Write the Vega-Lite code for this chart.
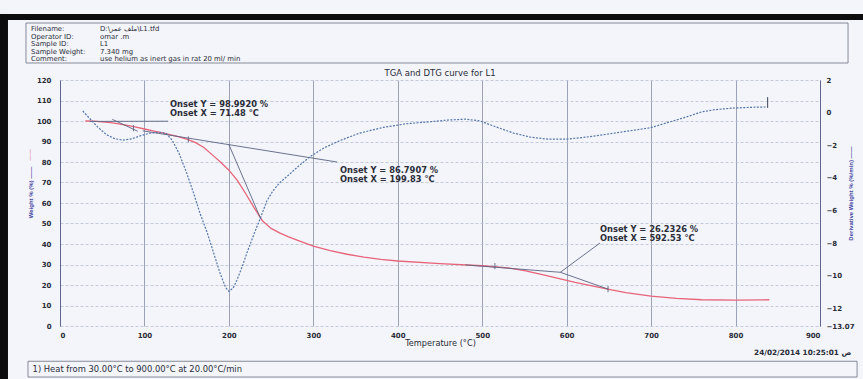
{
  "$schema": "https://vega.github.io/schema/vega-lite/v6.json",
  "width": 760,
  "height": 246,
  "autosize": {"type": "none"},
  "padding": {"left": 60, "top": 80, "right": 43, "bottom": 53},
  "background": "#f3f5fa",
  "config": {
    "view": {"stroke": null},
    "text": {"font": "DejaVu Sans"},
    "axis": {"labelFont": "DejaVu Sans", "labelColor": "#2a2c38", "labelFontSize": 7, "labelFontWeight": "bold", "labelOverlap": false, "titleFont": "DejaVu Sans", "ticks": false}
  },
  "datasets": {
    "tga": [
      {"T": 30, "W": 100}, {"T": 40, "W": 99.9}, {"T": 50, "W": 99.6}, {"T": 60, "W": 99.2},
      {"T": 70, "W": 98.6}, {"T": 80, "W": 97.9}, {"T": 90, "W": 97.0}, {"T": 100, "W": 96.1},
      {"T": 110, "W": 95.2}, {"T": 120, "W": 94.3}, {"T": 130, "W": 93.4}, {"T": 140, "W": 92.4},
      {"T": 150, "W": 91.2}, {"T": 160, "W": 89.6}, {"T": 170, "W": 87.2}, {"T": 180, "W": 83.6},
      {"T": 190, "W": 80.0}, {"T": 200, "W": 76.0}, {"T": 210, "W": 71.0}, {"T": 220, "W": 64.5},
      {"T": 230, "W": 57.6}, {"T": 240, "W": 51.2}, {"T": 250, "W": 47.6}, {"T": 260, "W": 45.4},
      {"T": 270, "W": 43.6}, {"T": 280, "W": 42.0}, {"T": 300, "W": 39.0}, {"T": 320, "W": 36.8},
      {"T": 340, "W": 35.0}, {"T": 360, "W": 33.6}, {"T": 380, "W": 32.5}, {"T": 400, "W": 31.7},
      {"T": 450, "W": 30.4}, {"T": 500, "W": 29.4}, {"T": 530, "W": 28.4}, {"T": 550, "W": 27.0},
      {"T": 570, "W": 25.2}, {"T": 590, "W": 23.2}, {"T": 610, "W": 21.3}, {"T": 630, "W": 19.6},
      {"T": 650, "W": 17.9}, {"T": 670, "W": 16.3}, {"T": 700, "W": 14.6}, {"T": 730, "W": 13.5},
      {"T": 760, "W": 12.8}, {"T": 800, "W": 12.6}, {"T": 840, "W": 12.8}
    ],
    "dtg": [
      {"T": 27, "D": 0.1}, {"T": 35, "D": -0.35}, {"T": 45, "D": -0.9}, {"T": 55, "D": -1.35},
      {"T": 65, "D": -1.6}, {"T": 75, "D": -1.68}, {"T": 85, "D": -1.6}, {"T": 95, "D": -1.42},
      {"T": 107, "D": -1.25}, {"T": 118, "D": -1.2}, {"T": 126, "D": -1.28}, {"T": 133, "D": -1.7},
      {"T": 141, "D": -2.5}, {"T": 150, "D": -3.7}, {"T": 158, "D": -4.9}, {"T": 166, "D": -6.2},
      {"T": 174, "D": -7.3}, {"T": 182, "D": -8.6}, {"T": 190, "D": -9.9}, {"T": 196, "D": -10.7},
      {"T": 200, "D": -10.95}, {"T": 205, "D": -10.75}, {"T": 210, "D": -10.2}, {"T": 216, "D": -9.4},
      {"T": 222, "D": -8.5}, {"T": 230, "D": -7.4}, {"T": 237, "D": -6.5}, {"T": 245, "D": -5.4},
      {"T": 252, "D": -4.8}, {"T": 260, "D": -4.3}, {"T": 269, "D": -3.9}, {"T": 282, "D": -3.3},
      {"T": 296, "D": -2.7}, {"T": 313, "D": -2.15}, {"T": 332, "D": -1.7}, {"T": 355, "D": -1.25},
      {"T": 383, "D": -0.9}, {"T": 410, "D": -0.68}, {"T": 438, "D": -0.56}, {"T": 460, "D": -0.45},
      {"T": 480, "D": -0.4}, {"T": 497, "D": -0.5}, {"T": 515, "D": -0.85}, {"T": 537, "D": -1.25},
      {"T": 557, "D": -1.5}, {"T": 577, "D": -1.62}, {"T": 600, "D": -1.62}, {"T": 620, "D": -1.52},
      {"T": 643, "D": -1.36}, {"T": 670, "D": -1.15}, {"T": 699, "D": -0.93}, {"T": 720, "D": -0.6},
      {"T": 742, "D": -0.26}, {"T": 760, "D": 0.05}, {"T": 775, "D": 0.18}, {"T": 797, "D": 0.28},
      {"T": 820, "D": 0.33}, {"T": 838, "D": 0.35}
    ],
    "tangents": [
      {"T": 35, "W": 99.8, "T2": 128, "W2": 99.9},
      {"T": 62, "W": 100.8, "T2": 92, "W2": 95.0},
      {"T": 98, "W": 95.2, "T2": 328, "W2": 80.0},
      {"T": 200, "W": 88.5, "T2": 238, "W2": 52.0},
      {"T": 480, "W": 29.8, "T2": 592.5, "W2": 26.2},
      {"T": 592.5, "W": 26.2, "T2": 639.5, "W2": 40.5},
      {"T": 592.5, "W": 26.2, "T2": 649, "W2": 18.0},
      {"T": 87, "W": 98.0, "T2": 87, "W2": 95.0},
      {"T": 152, "W": 92.5, "T2": 152, "W2": 89.5},
      {"T": 515, "W": 30.7, "T2": 515, "W2": 27.7},
      {"T": 649, "W": 19.5, "T2": 649, "W2": 16.5}
    ],
    "onsets": [
      {"T": 130.3, "W": 107.7, "txt": "Onset Y = 98.9920 %"},
      {"T": 130.3, "W": 103.5, "txt": "Onset X = 71.48 °C"},
      {"T": 331.6, "W": 75.5, "txt": "Onset Y = 86.7907 %"},
      {"T": 331.6, "W": 71.2, "txt": "Onset X = 199.83 °C"},
      {"T": 639.5, "W": 46.7, "txt": "Onset Y = 26.2326 %"},
      {"T": 639.5, "W": 42.4, "txt": "Onset X = 592.53 °C"}
    ],
    "header": [
      {"T": -34.3, "W": 144.9, "txt": "Filename:"},
      {"T": -34.3, "W": 141.2, "txt": "Operator ID:"},
      {"T": -34.3, "W": 137.6, "txt": "Sample ID:"},
      {"T": -34.3, "W": 133.9, "txt": "Sample Weight:"},
      {"T": -34.3, "W": 130.2, "txt": "Comment:"},
      {"T": 47.4, "W": 144.9, "txt": "D:\\ملف عمر\\L1.tfd"},
      {"T": 47.4, "W": 141.2, "txt": "omar .m"},
      {"T": 47.4, "W": 137.6, "txt": "L1"},
      {"T": 47.4, "W": 133.9, "txt": "7.340 mg"},
      {"T": 47.4, "W": 130.2, "txt": "use helium as inert gas in rat 20 ml/ min"}
    ],
    "boxes": [
      {"T": -40.3, "T2": 933.2, "W": 147.8, "W2": 128.3},
      {"T": -37.9, "T2": 943.9, "W": -17.2, "W2": -24.9}
    ],
    "frame": [
      {"T": -71.1, "T2": 951, "W": 152.2, "W2": 149.3},
      {"T": -71.1, "T2": -61.6, "W": 152.2, "W2": -26}
    ]
  },
  "encoding": {
    "x": {"field": "T", "type": "quantitative", "scale": {"domain": [0, 900], "nice": false, "zero": false},
      "axis": {"values": [0, 100, 200, 300, 400, 500, 600, 700, 800, 900], "labelOverlap": false, "title": "Temperature (°C)", "titleFontSize": 8.2, "titleFontWeight": "normal", "titleColor": "#2a2c38", "titlePadding": 1, "labelPadding": 5, "domain": false, "grid": true, "gridColor": "#7a819c", "gridWidth": 0.8, "gridOpacity": 0.9}}
  },
  "layer": [
    {
      "encoding": {
        "y": {"field": "W", "type": "quantitative", "scale": {"domain": [0, 120], "nice": false, "zero": false},
          "axis": {"values": [0, 10, 20, 30, 40, 50, 60, 70, 80, 90, 100, 110, 120], "labelOverlap": false, "format": "d", "title": "Weight % (%) ——", "titleFont": "Liberation Sans", "titleFontSize": 6, "titleFontWeight": "bold", "titleColor": "#3f44a0", "titleX": -30, "titleY": 112, "titleBaseline": "middle", "labelPadding": 9, "domain": true, "domainColor": "#5f6788", "domainWidth": 1, "grid": true, "gridColor": "#b9bfd3", "gridDash": [3, 2], "gridWidth": 0.8}}
      },
      "layer": [
        {
          "data": {"name": "frame"},
          "mark": {"type": "rect", "color": "#0c0c0e"},
          "encoding": {"x2": {"field": "T2"}, "y2": {"field": "W2"}}
        },
        {
          "data": {"name": "boxes"},
          "mark": {"type": "rect", "fill": null, "stroke": "#6b6f80", "strokeWidth": 0.8},
          "encoding": {"x2": {"field": "T2"}, "y2": {"field": "W2"}}
        },
        {
          "data": {"name": "header"},
          "mark": {"type": "text", "align": "left", "baseline": "middle", "fontSize": 6.9, "color": "#2a2c38"},
          "encoding": {"text": {"field": "txt"}}
        },
        {
          "data": {"values": [{"T": 450, "W": 123.4, "txt": "TGA and DTG curve for L1"}]},
          "mark": {"type": "text", "align": "center", "baseline": "middle", "fontSize": 8.5, "color": "#2a2c38"},
          "encoding": {"text": {"field": "txt"}}
        },
        {
          "data": {"values": [{"T": -32.5, "W": -21.0, "txt": "1)  Heat from 30.00°C to 900.00°C at 20.00°C/min"}]},
          "mark": {"type": "text", "align": "left", "baseline": "middle", "fontSize": 8.4, "color": "#2a2c38"},
          "encoding": {"text": {"field": "txt"}}
        },
        {
          "data": {"values": [{"T": 937, "W": -13.2, "txt": "24/02/2014 10:25:01 ص"}]},
          "mark": {"type": "text", "align": "right", "baseline": "middle", "fontSize": 7.3, "fontWeight": "bold", "color": "#2a2c38"},
          "encoding": {"text": {"field": "txt"}}
        },
        {
          "data": {"name": "tga"},
          "mark": {"type": "line", "color": "#e8647a", "strokeWidth": 1.3},
          "encoding": {}
        },
        {
          "data": {"name": "tangents"},
          "mark": {"type": "rule", "color": "#5b6380", "strokeWidth": 0.9},
          "encoding": {"x2": {"field": "T2"}, "y2": {"field": "W2"}}
        },
        {
          "data": {"name": "onsets"},
          "mark": {"type": "text", "align": "left", "baseline": "middle", "fontSize": 8.3, "fontWeight": "bold", "color": "#2a2c38"},
          "encoding": {"text": {"field": "txt"}}
        },
        {
          "data": {"values": [{"T": -35.5, "W": 83.4, "txt": "——"}]},
          "mark": {"type": "text", "angle": 270, "baseline": "middle", "fontSize": 6, "color": "#e8647a"},
          "encoding": {"text": {"field": "txt"}}
        }
      ]
    },
    {
      "encoding": {
        "y": {"field": "D", "type": "quantitative", "scale": {"domain": [-13.07, 2], "nice": false, "zero": false},
          "axis": {"orient": "right", "values": [2, 0, -2, -4, -6, -8, -10, -12, -13.07], "labelOverlap": false, "format": ".2~f", "title": "Derivative Weight % (%/min) ——", "titleFont": "Liberation Sans", "titleFontSize": 6, "titleFontWeight": "bold", "titleColor": "#3f44a0", "titleAngle": 270, "titleX": 30, "titleY": 113, "titleBaseline": "middle", "labelPadding": 6, "domain": true, "domainColor": "#5f6788", "domainWidth": 1, "grid": false}}
      },
      "layer": [
        {
          "data": {"name": "dtg"},
          "mark": {"type": "line", "color": "#5676aa", "strokeWidth": 1.2, "strokeDash": [2, 1.4]},
          "encoding": {}
        },
        {
          "data": {"values": [{"T": 838, "D": 0.3, "D2": 0.95}]},
          "mark": {"type": "rule", "color": "#3d4458", "strokeWidth": 1},
          "encoding": {"y2": {"field": "D2"}}
        }
      ]
    }
  ],
  "resolve": {"scale": {"y": "independent"}, "axis": {"y": "independent"}}
}
